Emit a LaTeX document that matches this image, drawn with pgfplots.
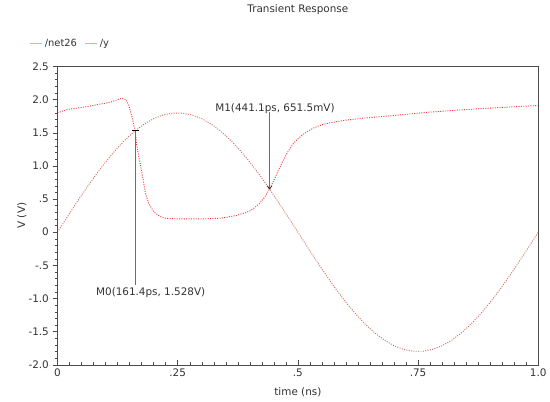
\documentclass[border=0pt]{standalone}
\usepackage{fontspec}
\setmainfont{DejaVu Sans}
\usepackage{pgfplots}
\pgfplotsset{compat=1.18}

\definecolor{netred}{RGB}{190,50,40}
\definecolor{yred}{RGB}{245,20,20}
\definecolor{mgray}{RGB}{110,110,110}

\begin{document}
\fontsize{10.5}{12}\selectfont
\begin{tikzpicture}
\begin{axis}[
  scale only axis,
  width=485pt, height=301pt,
  xmin=0, xmax=1, ymin=-2, ymax=2.5,
  axis line style={black!70},
  xtick={0,0.25,0.5,0.75,1},
  xticklabels={0,.25,.5,.75,1.0},
  ytick={-2,-1.5,-1,-0.5,0,0.5,1,1.5,2,2.5},
  yticklabels={-2.0,-1.5,-1.0,-.5,0,.5,1.0,1.5,2.0,2.5},
  minor x tick num=9, minor y tick num=4,
  xtick pos=bottom, ytick pos=left,
  xtick align=inside, ytick align=outside,
  major tick length=5pt, minor tick length=3pt,
  every tick/.style={black!70},
  tick label style={font=\fontsize{10.5}{12}\selectfont, text=black!80},
  title={Transient Response},
  title style={at={(0.5,1)}, anchor=center, yshift=51pt, text=black!80},
  xlabel={time (ns)}, ylabel={V (V)},
  every axis x label/.style={at={(axis description cs:0.5,0)}, anchor=center, yshift=-28pt, text=black!80},
  every axis y label/.style={at={(axis description cs:0,0.5)}, anchor=center, xshift=-36pt, rotate=90, text=black!80},
  legend columns=2,
  legend style={at={(axis description cs:0,1)}, anchor=west, xshift=-31pt, yshift=23pt,
    draw=none, fill=none, font=\fontsize{10}{12}\selectfont, text=black!80,
    /tikz/every even column/.append style={column sep=6pt}},
  legend image code/.code={\draw[solid, line width=1pt, opacity=0.4] (0pt,0pt) -- (12pt,0pt);},
]
% /net26
\addplot[netred, line width=0.9pt, dash pattern=on 1pt off 1.4pt, opacity=0.75] coordinates {
  (0,0) (0.02,0.2256) (0.04,0.4476) (0.06,0.6626) (0.08,0.8672) (0.10,1.0580)
  (0.12,1.2322) (0.14,1.3869) (0.16,1.5198) (0.1614,1.528) (0.18,1.6287) (0.20,1.7119)
  (0.22,1.7681) (0.24,1.7965) (0.26,1.7965) (0.28,1.7681) (0.30,1.7119)
  (0.32,1.6287) (0.34,1.5198) (0.36,1.3869) (0.38,1.2322) (0.40,1.0580)
  (0.42,0.8672) (0.44,0.6626) (0.46,0.4476) (0.48,0.2256) (0.50,0)
  (0.52,-0.2256) (0.54,-0.4476) (0.56,-0.6626) (0.58,-0.8672) (0.60,-1.0580)
  (0.62,-1.2322) (0.64,-1.3869) (0.66,-1.5198) (0.68,-1.6287) (0.70,-1.7119)
  (0.72,-1.7681) (0.74,-1.7965) (0.76,-1.7965) (0.78,-1.7681) (0.80,-1.7119)
  (0.82,-1.6287) (0.84,-1.5198) (0.86,-1.3869) (0.88,-1.2322) (0.90,-1.0580)
  (0.92,-0.8672) (0.94,-0.6626) (0.96,-0.4476) (0.98,-0.2256) (1.00,0)
};
\addlegendentry{/net26}
% /y
\addplot[yred, line width=0.9pt, dash pattern=on 1pt off 1.4pt, opacity=0.85] coordinates {
  (0,1.80) (0.02,1.85) (0.05,1.88) (0.08,1.92) (0.11,1.96) (0.125,2.00) (0.135,2.02)
  (0.142,2.00) (0.148,1.92) (0.155,1.74) (0.1614,1.528) (0.165,1.30) (0.172,1.03)
  (0.177,0.84) (0.183,0.58) (0.19,0.43) (0.20,0.31) (0.212,0.24) (0.225,0.21)
  (0.25,0.20) (0.30,0.20) (0.34,0.21) (0.37,0.25) (0.39,0.29) (0.40,0.32)
  (0.41,0.37) (0.42,0.43) (0.43,0.52) (0.4411,0.6515) (0.45,0.78) (0.46,0.94)
  (0.47,1.09) (0.478,1.20) (0.49,1.33) (0.50,1.41) (0.51,1.47) (0.52,1.52)
  (0.535,1.58) (0.55,1.62) (0.567,1.65) (0.60,1.69) (0.636,1.72) (0.70,1.76)
  (0.773,1.81) (0.85,1.85) (0.92,1.88) (1.00,1.91)
};
\addlegendentry{/y}
% marker M0
\addplot[mgray, line width=0.8pt, forget plot] coordinates {(0.1614,1.528) (0.1614,-0.79)};
\addplot[black, line width=0.8pt, forget plot] coordinates {(0.1545,1.528) (0.1685,1.528)};
\node[anchor=west, text=black!80, inner sep=0pt] at (axis cs:0.080,-0.91) {M0(161.4ps, 1.528V)};
% marker M1
\addplot[mgray, line width=0.8pt, forget plot] coordinates {(0.4411,0.6515) (0.4411,1.82)};
\addplot[black!80, line width=0.8pt, forget plot] coordinates {(0.4361,0.70) (0.4411,0.6515) (0.4461,0.70)};
\node[anchor=west, text=black!80, inner sep=0pt] at (axis cs:0.328,1.87) {M1(441.1ps, 651.5mV)};
\end{axis}
\path (current axis.south west) ++(-58pt,-37pt) rectangle ++(550pt,405pt);
\end{tikzpicture}
\end{document}
